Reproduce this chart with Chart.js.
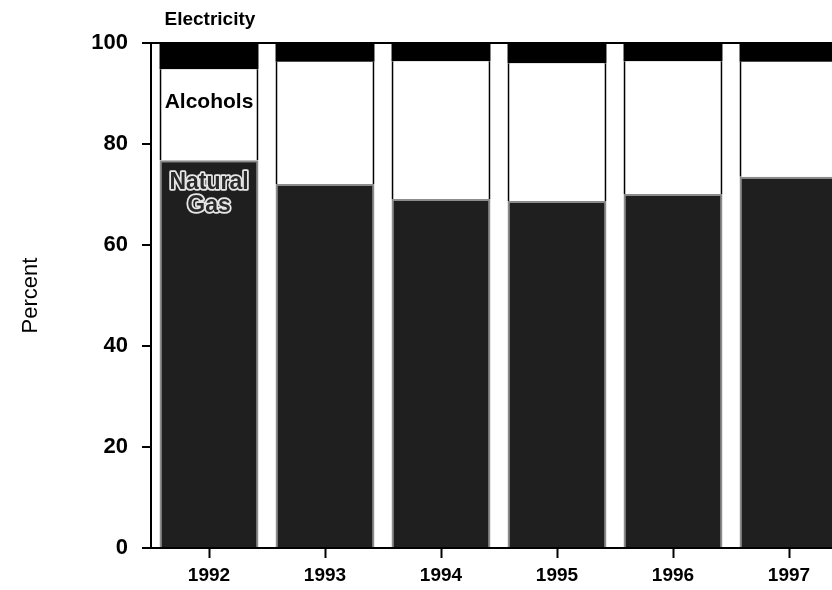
<!DOCTYPE html>
<html>
<head>
<meta charset="utf-8">
<script src="https://cdn.jsdelivr.net/npm/chart.js@4"></script>
<style>
  html, body { margin: 0; padding: 0; background: #fff; overflow: hidden; }
  #wrap { width: 847px; height: 590px; }
</style>
</head>
<body>
<div id="wrap"><canvas id="chart" width="847" height="590"></canvas></div>
<script>
const YEARS = ['1992', '1993', '1994', '1995', '1996', '1997'];
const NATURAL_GAS = [76.8, 72.1, 69.1, 68.7, 70.1, 73.5];
const ALCOHOLS = [18.0, 24.2, 27.3, 27.3, 26.3, 22.8];
const ELECTRICITY = [5.2, 3.7, 3.6, 4.0, 3.6, 3.7];
const Y_TICKS = [0, 20, 40, 60, 80, 100];

const FONT = "'Liberation Sans', Arial, Helvetica, sans-serif";

// series names written straight onto the first column, like the print
const segmentLabels = {
  id: 'segmentLabels',
  afterDatasetsDraw(chart) {
    const { ctx, chartArea } = chart;
    const gas = chart.getDatasetMeta(0).data[0];
    const alc = chart.getDatasetMeta(1).data[0];
    ctx.save();
    ctx.textBaseline = 'alphabetic';

    ctx.fillStyle = '#000';
    ctx.font = `bold 19px ${FONT}`;
    ctx.textAlign = 'left';
    ctx.fillText('Electricity', gas.x - gas.width / 2 + 5, chartArea.top - 18);

    ctx.font = `bold 21px ${FONT}`;
    ctx.textAlign = 'center';
    ctx.fillText('Alcohols', alc.x, alc.y + 39);

    ctx.font = `bold 23px ${FONT}`;
    ctx.lineWidth = 3.5;
    ctx.strokeStyle = '#e6e6e6';
    ctx.fillStyle = '#2a2a2a';
    ctx.lineJoin = 'round';
    ctx.strokeText('Natural', gas.x, gas.y + 29);
    ctx.fillText('Natural', gas.x, gas.y + 29);
    ctx.strokeText('Gas', gas.x, gas.y + 52);
    ctx.fillText('Gas', gas.x, gas.y + 52);
    ctx.restore();
  },
};

new Chart(document.getElementById('chart'), {
  type: 'bar',
  data: {
    labels: YEARS,
    datasets: [
      { label: 'Natural Gas', data: NATURAL_GAS, backgroundColor: '#1f1f1f', borderColor: '#8c8c8c', borderWidth: 2 },
      { label: 'Alcohols', data: ALCOHOLS, backgroundColor: '#ffffff', borderColor: '#000000', borderWidth: { left: 2, right: 2, bottom: 2, top: 0 } },
      { label: 'Electricity', data: ELECTRICITY, backgroundColor: '#000000', borderWidth: 0 },
    ],
  },
  options: {
    responsive: false,
    animation: false,
    layout: { padding: { top: 43, right: 0, left: 0, bottom: 0 } },
    datasets: { bar: { barPercentage: 0.853, categoryPercentage: 1 } },
    plugins: { legend: { display: false }, tooltip: { enabled: false } },
    scales: {
      x: {
        stacked: true,
        afterFit: (scale) => { scale.height = 42; },
        grid: { offset: false, drawOnChartArea: false, tickLength: 10, tickColor: '#000', tickWidth: 2 },
        border: { display: true, color: '#000', width: 2 },
        ticks: { color: '#000', font: { family: FONT, size: 19, weight: 'bold' }, padding: 6 },
      },
      y: {
        stacked: true,
        min: 0,
        max: 100,
        afterFit: (scale) => { scale.width = 151; },
        afterBuildTicks: (scale) => { scale.ticks = Y_TICKS.map((v) => ({ value: v })); },
        grid: {
          color: (ctx) => (ctx.tick && ctx.tick.value === 100 ? '#000' : 'rgba(0,0,0,0)'),
          lineWidth: 2,
          tickColor: '#000',
          tickWidth: 2,
          tickLength: 9,
        },
        border: { display: true, color: '#000', width: 2 },
        ticks: { color: '#000', font: { family: FONT, size: 22, weight: 'bold' }, padding: 14 },
        title: { display: true, text: 'Percent', color: '#000', font: { family: FONT, size: 22 }, padding: { top: 18, bottom: 0 } },
      },
    },
  },
  plugins: [segmentLabels],
});
</script>
</body>
</html>
